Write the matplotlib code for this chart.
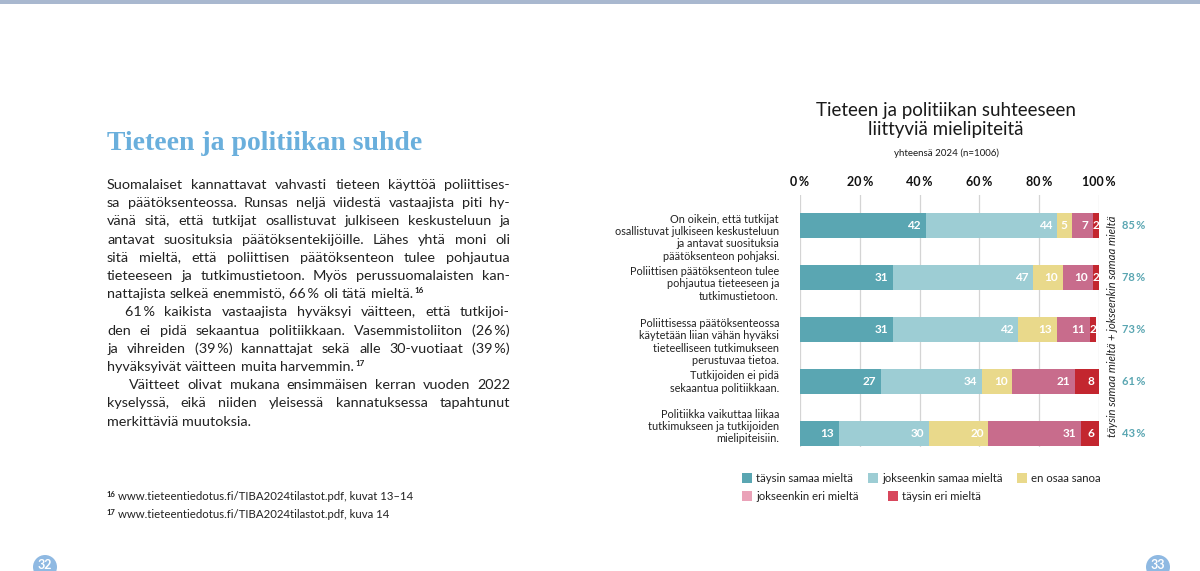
import math
import matplotlib
matplotlib.use('Agg')
import matplotlib.pyplot as plt
from matplotlib.patches import Rectangle, Circle
from matplotlib.font_manager import FontProperties

W, H = 1200, 571
FONT = ['Lato', 'DejaVu Sans']
SERIF = ['Liberation Serif', 'DejaVu Serif']

# --- data ---
categories = [
    'On oikein, että tutkijat\nosallistuvat julkiseen keskusteluun\nja antavat suosituksia\npäätöksenteon pohjaksi.',
    'Poliittisen päätöksenteon tulee\npohjautua tieteeseen ja\ntutkimustietoon.',
    'Poliittisessa päätöksenteossa\nkäytetään liian vähän hyväksi\ntieteelliseen tutkimukseen\nperustuvaa tietoa.',
    'Tutkijoiden ei pidä\nsekaantua politiikkaan.',
    'Politiikka vaikuttaa liikaa\ntutkimukseen ja tutkijoiden\nmielipiteisiin.',
]
taysin_samaa = [42, 31, 31, 27, 13]
jokseenkin_samaa = [44, 47, 42, 34, 30]
en_osaa = [5, 10, 13, 10, 20]
jokseenkin_eri = [7, 10, 11, 21, 31]
taysin_eri = [2, 2, 2, 8, 6]
samaa_yhteensa = [85, 78, 73, 61, 43]
series_names = ['täysin samaa mieltä', 'jokseenkin samaa mieltä', 'en osaa sanoa',
                'jokseenkin eri mieltä', 'täysin eri mieltä']
x_ticks = [0, 20, 40, 60, 80, 100]

title = 'Tieteen ja politiikan suhteeseen\nliittyviä mielipiteitä'
subtitle = 'yhteensä 2024 (n=1006)'
side_label = 'täysin samaa mieltä + jokseenkin samaa mieltä'

heading = 'Tieteen ja politiikan suhde'
paragraphs = [
    ['Suomalaiset kannattavat vahvasti tieteen käyttöä poliittises-',
     'sa päätöksenteossa. Runsas neljä viidestä vastaajista piti hy-',
     'vänä sitä, että tutkijat osallistuvat julkiseen keskusteluun ja',
     'antavat suosituksia päätöksentekijöille. Lähes yhtä moni oli',
     'sitä mieltä, että poliittisen päätöksenteon tulee pohjautua',
     'tieteeseen ja tutkimustietoon. Myös perussuomalaisten kan-',
     'nattajista selkeä enemmistö, 66\u2009% oli tätä mieltä.^16'],
    ['61\u2009% kaikista vastaajista hyväksyi väitteen, että tutkijoi-',
     'den ei pidä sekaantua politiikkaan. Vasemmistoliiton (26\u2009%)',
     'ja vihreiden (39\u2009%) kannattajat sekä alle 30-vuotiaat (39\u2009%)',
     'hyväksyivät väitteen muita harvemmin.^17'],
    ['Väitteet olivat mukana ensimmäisen kerran vuoden 2022',
     'kyselyssä, eikä niiden yleisessä kannatuksessa tapahtunut',
     'merkittäviä muutoksia.'],
]
footnotes = [('16', 'www.tieteentiedotus.fi/TIBA2024tilastot.pdf, kuvat 13–14'),
             ('17', 'www.tieteentiedotus.fi/TIBA2024tilastot.pdf, kuva 14')]
page_numbers = ['32', '33']

# --- style ---
bar_colors = ['#5aa6b2', '#9dcdd4', '#e9d98b', '#c86c8c', '#c3262f']
legend_colors = ['#5aa6b2', '#9dcdd4', '#e9d98b', '#eaa2b8', '#d8475c']
TEXT = '#222222'


def fx(x):
    return x / W


def fy(y):
    return 1 - y / H


fig = plt.figure(figsize=(12, 5.71), dpi=100)
r = fig.canvas.get_renderer()

# top band
fig.patches.append(Rectangle((0, fy(3.5)), 1, 3.5 / H, transform=fig.transFigure,
                             color='#a9b8cf', lw=0))


def word_text(word, x, base_row, prop, **kw):
    # Agg rounds each word's bitmap on its own; shift y so every word of a
    # line lands on the same pixel baseline
    _, h, d = r.get_text_width_height_descent(word, prop, ismath=False)
    y = base_row - math.floor(h - d) + math.floor(h) - d
    return fig.text(fx(x), fy(y), word, fontproperties=prop, va='baseline', **kw)


def draw_line(text, x0, x1, y, size, justify):
    prop = FontProperties(family=FONT, size=size)
    sprop = FontProperties(family=FONT, size=size * 0.55, weight='bold')
    base_row = int(round(y))
    words = text.split(' ')
    items = []
    for w in words:
        sup = None
        if '^' in w:
            w, sup = w.split('^')
        t = word_text(w, 0, base_row, prop, color=TEXT)
        width = t.get_window_extent(r).width
        s = None
        if sup:
            s = word_text(sup, 0, base_row - 5, sprop, color=TEXT)
            width += s.get_window_extent(r).width + 1.5
        items.append((t, s, width))
    total = sum(i[2] for i in items)
    gap = size * 100 / 72 * 0.26
    if justify and len(items) > 1:
        gap = (x1 - x0 - total) / (len(items) - 1)
    x = x0
    for t, s, width in items:
        t.set_x(fx(x))
        if s is not None:
            tw = t.get_window_extent(r).width
            s.set_x(fx(x + tw + 1.5))
        x += width + gap


# left page
fig.text(fx(107), fy(143), heading, fontsize=20, family=SERIF, weight='bold',
         color='#6aafdc', va='center')

indents = [0, 18, 22]
base = 189
step = 18.2
line_no = 0
for p, lines in enumerate(paragraphs):
    for j, line in enumerate(lines):
        x0 = 107 + (indents[p] if j == 0 else 0)
        draw_line(line, x0, 510, base + step * line_no, 10.4, j < len(lines) - 1)
        line_no += 1

for k, (num, txt) in enumerate(footnotes):
    yb = 500 + 18 * k
    fig.text(fx(107), fy(yb - 3), num, fontsize=5.5, family=FONT, weight='bold',
             color=TEXT, va='baseline')
    fig.text(fx(118), fy(yb), txt, fontsize=8.2, family=FONT, color=TEXT, va='baseline')

for num, cx in zip(page_numbers, [45, 1158]):
    fig.patches.append(Circle((cx, H - 567), 12, transform=None, color='#8fb9e2', lw=0))
    fig.text(fx(cx), fy(565), num, fontsize=9, family=FONT, color='white',
             ha='center', va='center', weight='bold')

# chart title
fig.text(fx(946), fy(120), title, fontsize=13.5, family=FONT, color='#1a1a1a',
         ha='center', va='center', linespacing=1.2)
fig.text(fx(946), fy(153), subtitle, fontsize=7, family=FONT, color='#1a1a1a',
         ha='center', va='center')

# chart
ax = fig.add_axes([fx(800), fy(447), 299 / W, 252 / H])
series = [taysin_samaa, jokseenkin_samaa, en_osaa, jokseenkin_eri, taysin_eri]
ypos = list(range(len(categories)))
left = [0] * len(categories)
for vals, col in zip(series, bar_colors):
    ax.barh(ypos, vals, left=left, height=0.48, color=col, lw=0, zorder=2)
    for i, v in enumerate(vals):
        end = left[i] + v
        if v >= 4:
            ax.text(end - 1.6, i, str(v), ha='right', va='center', color='white',
                    fontsize=8.5, family=FONT, weight='bold', zorder=3)
        else:
            ax.text(left[i] + v / 2, i, str(v), ha='center', va='center', color='white',
                    fontsize=8.5, family=FONT, weight='bold', zorder=3)
    left = [a + b for a, b in zip(left, vals)]

ax.set_xlim(0, 100)
ax.set_ylim(4.25, -0.58)
ax.set_xticks(x_ticks)
ax.set_xticklabels([f'{t}\u2009%' for t in x_ticks], family=FONT, fontsize=9,
                   weight='bold', color='#111111')
ax.xaxis.tick_top()
ax.tick_params(axis='x', length=0, pad=5)
ax.set_yticks([])
for sp in ax.spines.values():
    sp.set_visible(False)
ax.grid(axis='x', color='#d4d4d4', lw=0.9, zorder=0)
ax.set_facecolor('none')

label_va = ['top', 'top', 'top', 'top', 'bottom']
for i, (lab, va) in enumerate(zip(categories, label_va)):
    yy = i - 0.22 if va == 'top' else i + 0.2
    ax.text(-7, yy, lab, ha='right', va=va, fontsize=7.8, family=FONT,
            color='#222222', linespacing=1.15, clip_on=False)

for i, v in enumerate(samaa_yhteensa):
    ax.text(107.8, i, f'{v}\u2009%', ha='left', va='center', fontsize=8,
            family=FONT, weight='bold', color='#5aa6b2', clip_on=False)

ax.text(104.6, 1.93, side_label, rotation=90, ha='center', va='center',
        fontsize=8.2, family=FONT, style='italic', color='#222222', clip_on=False)

# legend
legend_pos = [(742, 478), (868, 478), (1017, 478), (742, 496), (888, 496)]
for name, col, (lx, ly) in zip(series_names, legend_colors, legend_pos):
    fig.patches.append(Rectangle((fx(lx), fy(ly + 5)), 10 / W, 10 / H,
                                 transform=fig.transFigure, color=col, lw=0))
    fig.text(fx(lx + 14), fy(ly), name, fontsize=8.2, family=FONT, color='#222222',
             va='center')

fig.savefig('out.png', dpi=100, facecolor='white')
